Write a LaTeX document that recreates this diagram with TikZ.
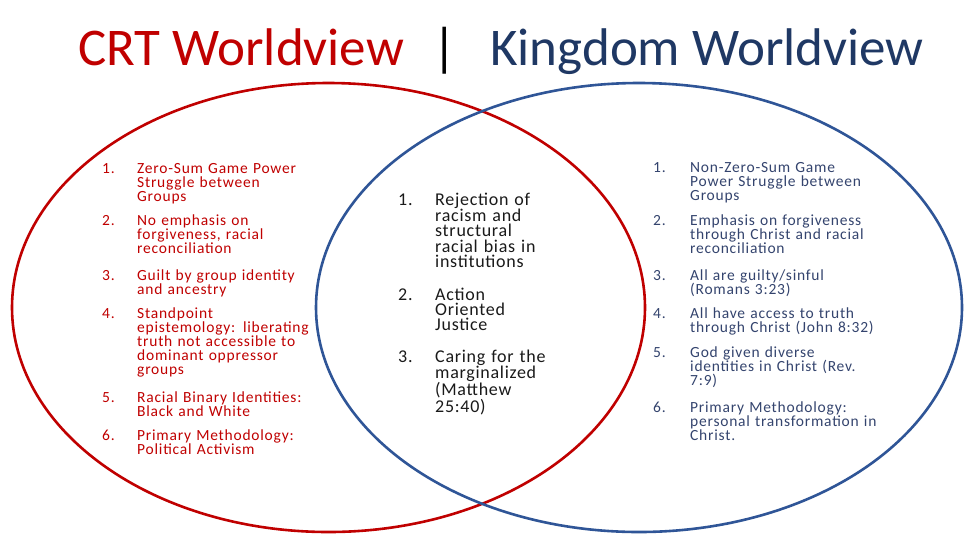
\documentclass[tikz,border=0pt]{standalone}
\usepackage{fontspec}
\setmainfont{Carlito}
\definecolor{crtred}{HTML}{C00000}
\definecolor{kingnavy}{HTML}{1F3864}
\definecolor{kingline}{HTML}{2F5597}
\definecolor{kingtext}{HTML}{34446E}
\definecolor{midink}{HTML}{1A1A1A}
\usepackage{tikz}
\usetikzlibrary{positioning}

\tikzset{
  titletext/.style={anchor=base west, inner sep=0pt, font=\fontsize{53}{60}\selectfont},
  crtnum/.style={anchor=base west, inner sep=0pt, text=crtred,
    font=\addfontfeature{LetterSpace=5}\fontsize{15.5}{14.2}\selectfont},
  crttxt/.style={crtnum, align=left, text width=200pt},
  kingnum/.style={crtnum, text=kingtext},
  kingtxt/.style={kingnum, align=left, text width=220pt},
  midnum/.style={anchor=base west, inner sep=0pt, text=midink,
    font=\addfontfeature{LetterSpace=4}\fontsize{18}{15.3}\selectfont},
  midtxt/.style={midnum, align=left, text width=150pt},
}

\begin{document}
\begin{tikzpicture}[x=1pt, y=-1pt]
  \fill[white] (0,0) rectangle (979,550);
  \useasboundingbox (0,0) rectangle (979,550);

  % heading
  \node[titletext, text=crtred] (crt) at (78,65) {CRT Worldview};
  \node[titletext, text=black, anchor=base] (bar) at (445,65) {|};
  \node[titletext, text=kingnavy] (kingdom) at (490,65) {Kingdom Worldview};

  % the two circles
  \draw[crtred, line width=2.6pt] (328.5,307.5) ellipse [x radius=316.5pt, y radius=224.5pt];
  \draw[kingline, line width=2.6pt] (639,307.5) ellipse [x radius=323pt, y radius=224.5pt];

  % CRT side
  \node[crtnum] (c1n) at (102,173) {1.};
  \node[crttxt] (c1) at (137,173) {Zero-Sum Game Power\\Struggle between\\Groups};
  \node[crtnum] (c2n) at (102,225) {2.};
  \node[crttxt] (c2) at (137,225) {No emphasis on\\forgiveness, racial\\reconciliation};
  \node[crtnum] (c3n) at (102,280) {3.};
  \node[crttxt] (c3) at (137,280) {Guilt by group identity\\and ancestry};
  \node[crtnum] (c4n) at (102,318) {4.};
  \node[crttxt] (c4) at (137,318) {Standpoint\\epistemology: liberating\\truth not accessible to\\dominant oppressor\\groups};
  \node[crtnum] (c5n) at (102,402) {5.};
  \node[crttxt] (c5) at (137,402) {Racial Binary Identities:\\Black and White};
  \node[crtnum] (c6n) at (102,440) {6.};
  \node[crttxt] (c6) at (137,440) {Primary Methodology:\\Political Activism};

  % common ground
  \node[midnum] (m1n) at (398,205) {1.};
  \node[midtxt] (m1) at (435,205) {Rejection of\\racism and\\structural\\racial bias in\\institutions};
  \node[midnum] (m2n) at (398,300) {2.};
  \node[midtxt] (m2) at (435,300) {Action\\Oriented\\Justice};
  \node[midnum] (m3n) at (398,362) {3.};
  \node[midtxt] (m3) at (435,362) {Caring for the\\marginalized\\(Matthew\\25:40)};

  % Kingdom side
  \node[kingnum] (k1n) at (653,172) {1.};
  \node[kingtxt] (k1) at (690,172) {Non-Zero-Sum Game\\Power Struggle between\\Groups};
  \node[kingnum] (k2n) at (653,225) {2.};
  \node[kingtxt] (k2) at (690,225) {Emphasis on forgiveness\\through Christ and racial\\reconciliation};
  \node[kingnum] (k3n) at (653,280) {3.};
  \node[kingtxt] (k3) at (690,280) {All are guilty/sinful\\(Romans 3:23)};
  \node[kingnum] (k4n) at (653,318) {4.};
  \node[kingtxt] (k4) at (690,318) {All have access to truth\\through Christ (John 8:32)};
  \node[kingnum] (k5n) at (653,357) {5.};
  \node[kingtxt] (k5) at (690,357) {God given diverse\\identities in Christ (Rev.\\7:9)};
  \node[kingnum] (k6n) at (653,412) {6.};
  \node[kingtxt] (k6) at (690,412) {Primary Methodology:\\personal transformation in\\Christ.};
\end{tikzpicture}
\end{document}
